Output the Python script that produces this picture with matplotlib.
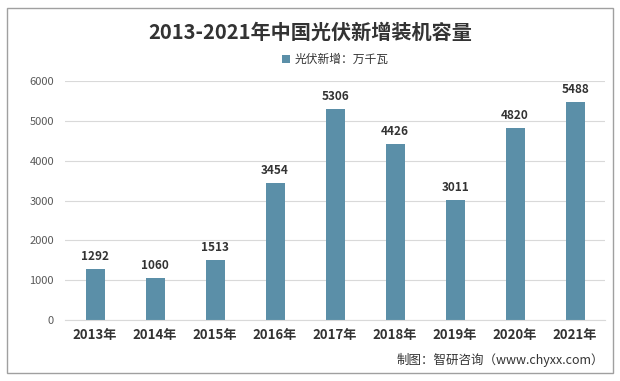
import matplotlib
matplotlib.use("Agg")
import matplotlib.pyplot as plt
from matplotlib.patches import Rectangle

plt.rcParams['font.family'] = ['Noto Sans CJK SC', 'DejaVu Sans']

years = ["2013年", "2014年", "2015年", "2016年", "2017年", "2018年", "2019年", "2020年", "2021年"]
values = [1292, 1060, 1513, 3454, 5306, 4426, 3011, 4820, 5488]
yticks = [0, 1000, 2000, 3000, 4000, 5000, 6000]

fig = plt.figure(figsize=(6.2, 3.81), dpi=100)
fig.patches.append(Rectangle((0.011, 0.02), 0.977, 0.958, transform=fig.transFigure,
                             fill=False, edgecolor='#a0a0a0', linewidth=1.0))
ax = fig.add_axes([0.105, 0.160, 0.871, 0.627])
x = list(range(len(years)))
bars = ax.bar(x, values, width=0.32, color='#5b8fa8', label='光伏新增：万千瓦', zorder=2)
for xi, v in zip(x, values):
    ax.text(xi, v + 150, str(v), ha='center', va='bottom', fontsize=8.5, fontweight='bold', color='#333333')
ax.set_ylim(0, 6000)
ax.set_xlim(-0.5, len(years) - 0.5)
ax.set_yticks(yticks)
ax.set_yticklabels([str(t) for t in yticks], fontsize=8, color='#595959')
ax.set_xticks(x)
ax.set_xticklabels(years, fontsize=9.5, fontweight='bold', color='#333333')
ax.grid(axis='y', color='#d9d9d9', linewidth=0.8, zorder=0)
for s in ['top', 'right', 'left']:
    ax.spines[s].set_visible(False)
ax.spines['bottom'].set_color('#d9d9d9')
ax.tick_params(axis='both', length=0, pad=8)
ax.tick_params(axis='x', pad=6)

fig.text(0.5, 0.915, '2013-2021年中国光伏新增装机容量', ha='center', va='center',
         fontsize=14.5, fontweight='bold', color='#333333')
ax.legend(loc='center', bbox_to_anchor=(0.5, 1.09), frameon=False, fontsize=8.5,
          handlelength=0.7, handleheight=0.7, handletextpad=0.4, labelcolor='#333333')
fig.text(0.975, 0.055, '制图：智研咨询（www.chyxx.com）', ha='right', va='center',
         fontsize=9, color='#333333')

fig.savefig('out.png', dpi=100)
